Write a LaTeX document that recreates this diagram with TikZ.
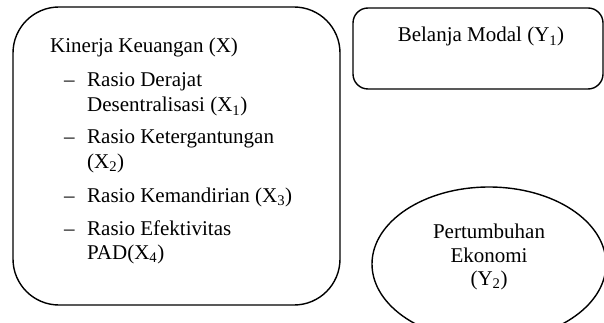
\documentclass[tikz,border=0pt]{standalone}
\usepackage{fontspec}
\setmainfont{Liberation Serif}
\usetikzlibrary{shapes.geometric}
\begin{document}
\begin{tikzpicture}[x=1pt,y=-1pt,
  shp/.style={draw=black,line width=1.4pt},
  txt/.style={inner sep=0pt,anchor=base west,font=\fontsize{21}{24}\selectfont},
  ctxt/.style={inner sep=0pt,anchor=base,font=\fontsize{21}{24}\selectfont}]
\useasboundingbox (0,0) rectangle (604,323);
\clip (0,0) rectangle (604,323);
% shapes
\draw[shp,rounded corners=46pt] (13,7) rectangle (340,305);
\coordinate (bigbox) at (176,156);
\draw[shp,rounded corners=15pt] (353,8) rectangle (603,89);
\coordinate (smallbox) at (478,48);
\node[shp,ellipse,minimum width=234pt,minimum height=154pt,inner sep=0pt] (ell) at (489,264) {};
% texts big box
\node[txt] (t0) at (50,53) {Kinerja Keuangan (X)};
\node[txt] (d1) at (64,87) {–};
\node[txt] (a1) at (87,87) {Rasio Derajat};
\node[txt] (b1) at (87,112) {Desentralisasi (X\textsubscript{1})};
\node[txt] (d2) at (64,144) {–};
\node[txt] (a2) at (87,144) {Rasio Ketergantungan};
\node[txt] (b2) at (87,168) {(X\textsubscript{2})};
\node[txt] (d3) at (64,202) {–};
\node[txt] (a3) at (87,202) {Rasio Kemandirian (X\textsubscript{3})};
\node[txt] (d4) at (64,235) {–};
\node[txt] (a4) at (87,235) {Rasio Efektivitas};
\node[txt] (b4) at (87,259) {PAD(X\textsubscript{4})};
% small box
\node[ctxt] (y1) at (481,42) {Belanja Modal (Y\textsubscript{1})};
% ellipse text
\node[ctxt] (e1) at (489,238) {Pertumbuhan};
\node[ctxt] (e2) at (489,262) {Ekonomi};
\node[ctxt] (e3) at (489,285) {(Y\textsubscript{2})};
\end{tikzpicture}
\end{document}
